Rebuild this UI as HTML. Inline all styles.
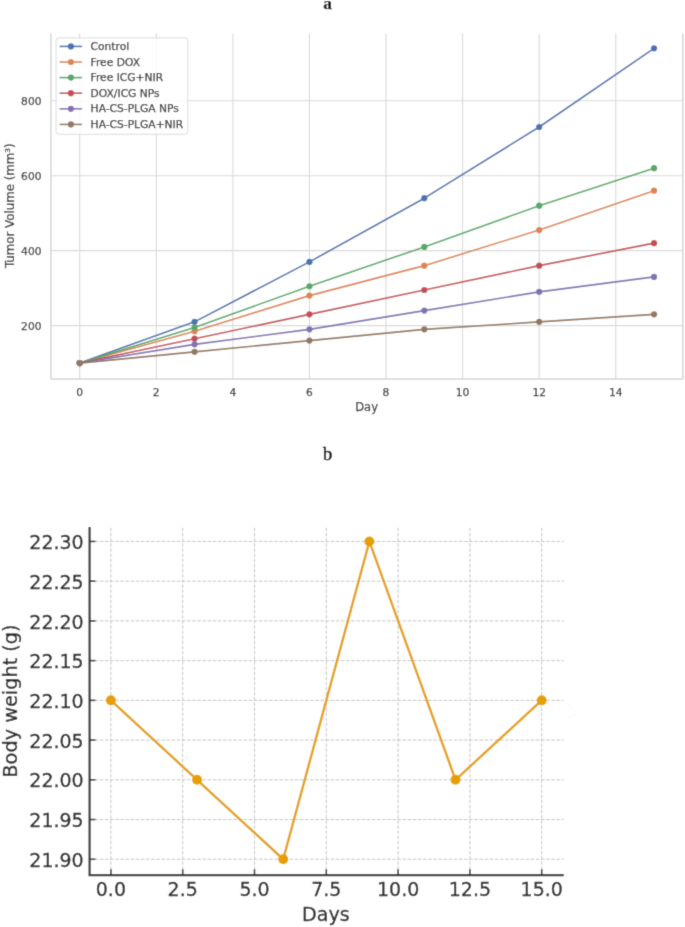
<!DOCTYPE html>
<html><head><meta charset="utf-8"><title>Figure</title>
<style>
html,body{margin:0;padding:0;background:#fff;}
body{width:685px;height:927px;overflow:hidden;position:relative;}
svg{display:block;position:absolute;left:0;top:0;}
.s{font-family:"DejaVu Sans","Liberation Sans",sans-serif;}
.lab{font-family:"Liberation Serif","DejaVu Serif",serif;}
</style></head><body>
<svg width="685" height="927" viewBox="0 0 685 927">
<defs><filter id="soft" x="0" y="0" width="685" height="927" filterUnits="userSpaceOnUse"><feConvolveMatrix order="3" kernelMatrix="0.037 0.19 0.037 0.19 1 0.19 0.037 0.19 0.037" edgeMode="duplicate"/></filter></defs>
<g filter="url(#soft)">
<rect width="685" height="927" fill="#fff"/>
<text class="lab" x="327.7" y="9.4" font-size="17.4" font-weight="bold" text-anchor="middle" fill="#000" stroke="#000" stroke-width="0.25">a</text>
<text class="lab" x="327.6" y="459.5" font-size="18.5" text-anchor="middle" fill="#000" stroke="#000" stroke-width="0.6">b</text>
<g id="top">
<line x1="79.7" y1="33.6" x2="79.7" y2="379.1" stroke="#d9d9d9" stroke-width="1.1"/>
<line x1="156.28" y1="33.6" x2="156.28" y2="379.1" stroke="#d9d9d9" stroke-width="1.1"/>
<line x1="232.86" y1="33.6" x2="232.86" y2="379.1" stroke="#d9d9d9" stroke-width="1.1"/>
<line x1="309.44" y1="33.6" x2="309.44" y2="379.1" stroke="#d9d9d9" stroke-width="1.1"/>
<line x1="386.02" y1="33.6" x2="386.02" y2="379.1" stroke="#d9d9d9" stroke-width="1.1"/>
<line x1="462.6" y1="33.6" x2="462.6" y2="379.1" stroke="#d9d9d9" stroke-width="1.1"/>
<line x1="539.18" y1="33.6" x2="539.18" y2="379.1" stroke="#d9d9d9" stroke-width="1.1"/>
<line x1="615.76" y1="33.6" x2="615.76" y2="379.1" stroke="#d9d9d9" stroke-width="1.1"/>
<line x1="50.9" y1="325.6" x2="682.9" y2="325.6" stroke="#d9d9d9" stroke-width="1.1"/>
<line x1="50.9" y1="250.65" x2="682.9" y2="250.65" stroke="#d9d9d9" stroke-width="1.1"/>
<line x1="50.9" y1="175.7" x2="682.9" y2="175.7" stroke="#d9d9d9" stroke-width="1.1"/>
<line x1="50.9" y1="100.75" x2="682.9" y2="100.75" stroke="#d9d9d9" stroke-width="1.1"/>
<path d="M50.9 33.6 V379.1 H682.9 V33.6" fill="none" stroke="#d6d6d6" stroke-width="1.5"/>
<polyline points="79.7,363.08 194.57,321.85 309.44,261.89 424.31,198.19 539.18,126.98 654.05,48.29" fill="none" stroke="#4c72b0" stroke-width="1.6" stroke-linejoin="round"/>
<circle cx="79.7" cy="363.08" r="3.1" fill="#4c72b0"/>
<circle cx="194.57" cy="321.85" r="3.1" fill="#4c72b0"/>
<circle cx="309.44" cy="261.89" r="3.1" fill="#4c72b0"/>
<circle cx="424.31" cy="198.19" r="3.1" fill="#4c72b0"/>
<circle cx="539.18" cy="126.98" r="3.1" fill="#4c72b0"/>
<circle cx="654.05" cy="48.29" r="3.1" fill="#4c72b0"/>
<polyline points="79.7,363.08 194.57,331.22 309.44,295.62 424.31,265.64 539.18,230.04 654.05,190.69" fill="none" stroke="#dd8452" stroke-width="1.6" stroke-linejoin="round"/>
<circle cx="79.7" cy="363.08" r="3.1" fill="#dd8452"/>
<circle cx="194.57" cy="331.22" r="3.1" fill="#dd8452"/>
<circle cx="309.44" cy="295.62" r="3.1" fill="#dd8452"/>
<circle cx="424.31" cy="265.64" r="3.1" fill="#dd8452"/>
<circle cx="539.18" cy="230.04" r="3.1" fill="#dd8452"/>
<circle cx="654.05" cy="190.69" r="3.1" fill="#dd8452"/>
<polyline points="79.7,363.08 194.57,327.47 309.44,286.25 424.31,246.9 539.18,205.68 654.05,168.21" fill="none" stroke="#55a868" stroke-width="1.6" stroke-linejoin="round"/>
<circle cx="79.7" cy="363.08" r="3.1" fill="#55a868"/>
<circle cx="194.57" cy="327.47" r="3.1" fill="#55a868"/>
<circle cx="309.44" cy="286.25" r="3.1" fill="#55a868"/>
<circle cx="424.31" cy="246.9" r="3.1" fill="#55a868"/>
<circle cx="539.18" cy="205.68" r="3.1" fill="#55a868"/>
<circle cx="654.05" cy="168.21" r="3.1" fill="#55a868"/>
<polyline points="79.7,363.08 194.57,338.72 309.44,314.36 424.31,290 539.18,265.64 654.05,243.16" fill="none" stroke="#c44e52" stroke-width="1.6" stroke-linejoin="round"/>
<circle cx="79.7" cy="363.08" r="3.1" fill="#c44e52"/>
<circle cx="194.57" cy="338.72" r="3.1" fill="#c44e52"/>
<circle cx="309.44" cy="314.36" r="3.1" fill="#c44e52"/>
<circle cx="424.31" cy="290" r="3.1" fill="#c44e52"/>
<circle cx="539.18" cy="265.64" r="3.1" fill="#c44e52"/>
<circle cx="654.05" cy="243.16" r="3.1" fill="#c44e52"/>
<polyline points="79.7,363.08 194.57,344.34 309.44,329.35 424.31,310.61 539.18,291.87 654.05,276.88" fill="none" stroke="#8172b3" stroke-width="1.6" stroke-linejoin="round"/>
<circle cx="79.7" cy="363.08" r="3.1" fill="#8172b3"/>
<circle cx="194.57" cy="344.34" r="3.1" fill="#8172b3"/>
<circle cx="309.44" cy="329.35" r="3.1" fill="#8172b3"/>
<circle cx="424.31" cy="310.61" r="3.1" fill="#8172b3"/>
<circle cx="539.18" cy="291.87" r="3.1" fill="#8172b3"/>
<circle cx="654.05" cy="276.88" r="3.1" fill="#8172b3"/>
<polyline points="79.7,363.08 194.57,351.83 309.44,340.59 424.31,329.35 539.18,321.85 654.05,314.36" fill="none" stroke="#937860" stroke-width="1.6" stroke-linejoin="round"/>
<circle cx="79.7" cy="363.08" r="3.1" fill="#937860"/>
<circle cx="194.57" cy="351.83" r="3.1" fill="#937860"/>
<circle cx="309.44" cy="340.59" r="3.1" fill="#937860"/>
<circle cx="424.31" cy="329.35" r="3.1" fill="#937860"/>
<circle cx="539.18" cy="321.85" r="3.1" fill="#937860"/>
<circle cx="654.05" cy="314.36" r="3.1" fill="#937860"/>
<g class="s" font-size="10.7" fill="#333" stroke="#333" stroke-width="0.25">
<text x="41.5" y="329.5" text-anchor="end">200</text>
<text x="41.5" y="254.55" text-anchor="end">400</text>
<text x="41.5" y="179.6" text-anchor="end">600</text>
<text x="41.5" y="104.65" text-anchor="end">800</text>
<text x="79.7" y="396.4" text-anchor="middle">0</text>
<text x="156.28" y="396.4" text-anchor="middle">2</text>
<text x="232.86" y="396.4" text-anchor="middle">4</text>
<text x="309.44" y="396.4" text-anchor="middle">6</text>
<text x="386.02" y="396.4" text-anchor="middle">8</text>
<text x="462.6" y="396.4" text-anchor="middle">10</text>
<text x="539.18" y="396.4" text-anchor="middle">12</text>
<text x="615.76" y="396.4" text-anchor="middle">14</text>
</g>
<text class="s" x="366.6" y="411.3" font-size="11.5" text-anchor="middle" fill="#333" stroke="#333" stroke-width="0.25">Day</text>
<text class="s" transform="translate(14.0 205.7) rotate(-90)" font-size="11.8" text-anchor="middle" fill="#333" stroke="#333" stroke-width="0.25">Tumor Volume (mm³)</text>
<rect x="56.1" y="37.9" width="131.7" height="96.4" rx="2.8" fill="#fff" fill-opacity="0.8" stroke="#dcdcdc" stroke-width="1"/>
<line x1="59.6" y1="46.4" x2="82.1" y2="46.4" stroke="#4c72b0" stroke-width="1.6"/>
<circle cx="70.9" cy="46.4" r="3.1" fill="#4c72b0"/>
<line x1="59.6" y1="62" x2="82.1" y2="62" stroke="#dd8452" stroke-width="1.6"/>
<circle cx="70.9" cy="62" r="3.1" fill="#dd8452"/>
<line x1="59.6" y1="77.6" x2="82.1" y2="77.6" stroke="#55a868" stroke-width="1.6"/>
<circle cx="70.9" cy="77.6" r="3.1" fill="#55a868"/>
<line x1="59.6" y1="93.2" x2="82.1" y2="93.2" stroke="#c44e52" stroke-width="1.6"/>
<circle cx="70.9" cy="93.2" r="3.1" fill="#c44e52"/>
<line x1="59.6" y1="108.8" x2="82.1" y2="108.8" stroke="#8172b3" stroke-width="1.6"/>
<circle cx="70.9" cy="108.8" r="3.1" fill="#8172b3"/>
<line x1="59.6" y1="124.4" x2="82.1" y2="124.4" stroke="#937860" stroke-width="1.6"/>
<circle cx="70.9" cy="124.4" r="3.1" fill="#937860"/>
<g class="s" font-size="10.7" fill="#333" stroke="#333" stroke-width="0.25">
<text x="90.6" y="50">Control</text>
<text x="90.6" y="65.6">Free DOX</text>
<text x="90.6" y="81.2">Free ICG+NIR</text>
<text x="90.6" y="96.8">DOX/ICG NPs</text>
<text x="90.6" y="112.4">HA-CS-PLGA NPs</text>
<text x="90.6" y="128">HA-CS-PLGA+NIR</text>
</g>
</g>
<g id="bottom">
<line x1="110.9" y1="875.1" x2="110.9" y2="527.0" stroke="#c2c2c2" stroke-width="0.95" stroke-dasharray="3.55 1.58"/>
<line x1="182.7" y1="875.1" x2="182.7" y2="527.0" stroke="#c2c2c2" stroke-width="0.95" stroke-dasharray="3.55 1.58"/>
<line x1="254.5" y1="875.1" x2="254.5" y2="527.0" stroke="#c2c2c2" stroke-width="0.95" stroke-dasharray="3.55 1.58"/>
<line x1="326.3" y1="875.1" x2="326.3" y2="527.0" stroke="#c2c2c2" stroke-width="0.95" stroke-dasharray="3.55 1.58"/>
<line x1="398.1" y1="875.1" x2="398.1" y2="527.0" stroke="#c2c2c2" stroke-width="0.95" stroke-dasharray="3.55 1.58"/>
<line x1="469.9" y1="875.1" x2="469.9" y2="527.0" stroke="#c2c2c2" stroke-width="0.95" stroke-dasharray="3.55 1.58"/>
<line x1="541.7" y1="875.1" x2="541.7" y2="527.0" stroke="#c2c2c2" stroke-width="0.95" stroke-dasharray="3.55 1.58"/>
<line x1="89.6" y1="859.25" x2="563.8" y2="859.25" stroke="#c2c2c2" stroke-width="0.95" stroke-dasharray="3.55 1.58"/>
<line x1="89.6" y1="819.53" x2="563.8" y2="819.53" stroke="#c2c2c2" stroke-width="0.95" stroke-dasharray="3.55 1.58"/>
<line x1="89.6" y1="779.8" x2="563.8" y2="779.8" stroke="#c2c2c2" stroke-width="0.95" stroke-dasharray="3.55 1.58"/>
<line x1="89.6" y1="740.08" x2="563.8" y2="740.08" stroke="#c2c2c2" stroke-width="0.95" stroke-dasharray="3.55 1.58"/>
<line x1="89.6" y1="700.35" x2="563.8" y2="700.35" stroke="#c2c2c2" stroke-width="0.95" stroke-dasharray="3.55 1.58"/>
<line x1="89.6" y1="660.63" x2="563.8" y2="660.63" stroke="#c2c2c2" stroke-width="0.95" stroke-dasharray="3.55 1.58"/>
<line x1="89.6" y1="620.9" x2="563.8" y2="620.9" stroke="#c2c2c2" stroke-width="0.95" stroke-dasharray="3.55 1.58"/>
<line x1="89.6" y1="581.18" x2="563.8" y2="581.18" stroke="#c2c2c2" stroke-width="0.95" stroke-dasharray="3.55 1.58"/>
<line x1="89.6" y1="541.45" x2="563.8" y2="541.45" stroke="#c2c2c2" stroke-width="0.95" stroke-dasharray="3.55 1.58"/>
<line x1="110.9" y1="875.1" x2="110.9" y2="869.3" stroke="#333" stroke-width="1.6"/>
<line x1="182.7" y1="875.1" x2="182.7" y2="869.3" stroke="#333" stroke-width="1.6"/>
<line x1="254.5" y1="875.1" x2="254.5" y2="869.3" stroke="#333" stroke-width="1.6"/>
<line x1="326.3" y1="875.1" x2="326.3" y2="869.3" stroke="#333" stroke-width="1.6"/>
<line x1="398.1" y1="875.1" x2="398.1" y2="869.3" stroke="#333" stroke-width="1.6"/>
<line x1="469.9" y1="875.1" x2="469.9" y2="869.3" stroke="#333" stroke-width="1.6"/>
<line x1="541.7" y1="875.1" x2="541.7" y2="869.3" stroke="#333" stroke-width="1.6"/>
<line x1="89.6" y1="859.25" x2="95.4" y2="859.25" stroke="#333" stroke-width="1.6"/>
<line x1="89.6" y1="819.53" x2="95.4" y2="819.53" stroke="#333" stroke-width="1.6"/>
<line x1="89.6" y1="779.8" x2="95.4" y2="779.8" stroke="#333" stroke-width="1.6"/>
<line x1="89.6" y1="740.08" x2="95.4" y2="740.08" stroke="#333" stroke-width="1.6"/>
<line x1="89.6" y1="700.35" x2="95.4" y2="700.35" stroke="#333" stroke-width="1.6"/>
<line x1="89.6" y1="660.63" x2="95.4" y2="660.63" stroke="#333" stroke-width="1.6"/>
<line x1="89.6" y1="620.9" x2="95.4" y2="620.9" stroke="#333" stroke-width="1.6"/>
<line x1="89.6" y1="581.18" x2="95.4" y2="581.18" stroke="#333" stroke-width="1.6"/>
<line x1="89.6" y1="541.45" x2="95.4" y2="541.45" stroke="#333" stroke-width="1.6"/>
<path d="M89.6 527.0 V875.1 H563.8" fill="none" stroke="#333" stroke-width="2.2"/>
<polyline points="110.9,700.35 197.06,779.8 283.22,859.25 369.38,541.45 455.54,779.8 541.7,700.35" fill="none" stroke="#e69f00" stroke-width="2.4" stroke-linejoin="round"/>
<circle cx="110.9" cy="700.35" r="5" fill="#e69f00"/>
<circle cx="197.06" cy="779.8" r="5" fill="#e69f00"/>
<circle cx="283.22" cy="859.25" r="5" fill="#e69f00"/>
<circle cx="369.38" cy="541.45" r="5" fill="#e69f00"/>
<circle cx="455.54" cy="779.8" r="5" fill="#e69f00"/>
<circle cx="541.7" cy="700.35" r="5" fill="#e69f00"/>
<g class="s" font-size="19.4" fill="#222" stroke="#222" stroke-width="0.3">
<text transform="translate(83.7 866.85) scale(0.98 1.045)" text-anchor="end">21.90</text>
<text transform="translate(83.7 827.13) scale(0.98 1.045)" text-anchor="end">21.95</text>
<text transform="translate(83.7 787.4) scale(0.98 1.045)" text-anchor="end">22.00</text>
<text transform="translate(83.7 747.68) scale(0.98 1.045)" text-anchor="end">22.05</text>
<text transform="translate(83.7 707.95) scale(0.98 1.045)" text-anchor="end">22.10</text>
<text transform="translate(83.7 668.23) scale(0.98 1.045)" text-anchor="end">22.15</text>
<text transform="translate(83.7 628.5) scale(0.98 1.045)" text-anchor="end">22.20</text>
<text transform="translate(83.7 588.78) scale(0.98 1.045)" text-anchor="end">22.25</text>
<text transform="translate(83.7 549.05) scale(0.98 1.045)" text-anchor="end">22.30</text>
<text transform="translate(110.9 896.1) scale(0.98 1.045)" text-anchor="middle">0.0</text>
<text transform="translate(182.7 896.1) scale(0.98 1.045)" text-anchor="middle">2.5</text>
<text transform="translate(254.5 896.1) scale(0.98 1.045)" text-anchor="middle">5.0</text>
<text transform="translate(326.3 896.1) scale(0.98 1.045)" text-anchor="middle">7.5</text>
<text transform="translate(398.1 896.1) scale(0.98 1.045)" text-anchor="middle">10.0</text>
<text transform="translate(469.9 896.1) scale(0.98 1.045)" text-anchor="middle">12.5</text>
<text transform="translate(541.7 896.1) scale(0.98 1.045)" text-anchor="middle">15.0</text>
</g>
<text class="s" x="325.9" y="921.0" font-size="19.1" text-anchor="middle" fill="#222" stroke="#222" stroke-width="0.3">Days</text>
<text class="s" transform="translate(16.9 701) rotate(-90) scale(0.965 1)" font-size="20" text-anchor="middle" fill="#222" stroke="#222" stroke-width="0.3">Body weight (g)</text>
<path d="M568.3 705 L574.2 709.8 M574.2 713.8 L568.3 718" fill="none" stroke="#ededed" stroke-width="0.8" stroke-dasharray="1.6 1.2"/>
</g>
</g>
</svg>
</body></html>
